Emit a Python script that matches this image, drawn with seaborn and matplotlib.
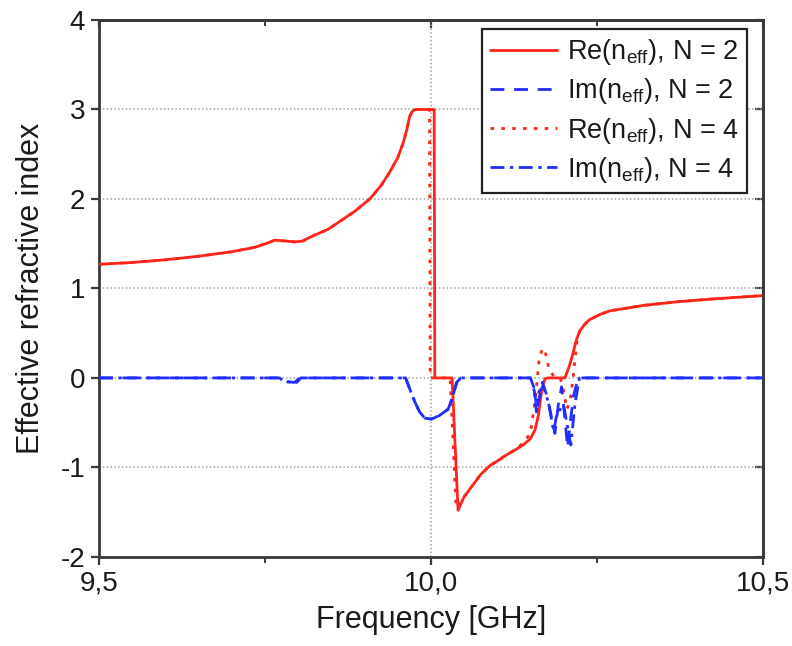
import numpy as np
import pandas as pd
import matplotlib
matplotlib.use("Agg")
import matplotlib.pyplot as plt
import seaborn as sns
from matplotlib.ticker import FixedLocator, FuncFormatter, NullFormatter

# Real part, N = 2 (solid)
freq_re2 = [9.500, 9.550, 9.600, 9.650, 9.700, 9.735, 9.755, 9.765, 9.780, 9.795,
            9.807, 9.820, 9.845, 9.863, 9.885, 9.908, 9.925, 9.938, 9.950, 9.958,
            9.964, 9.968, 9.972, 9.976, 9.990, 10.005, 10.006, 10.032, 10.041, 10.050,
            10.063, 10.075, 10.089, 10.100, 10.114, 10.128, 10.139, 10.150, 10.157, 10.162,
            10.165, 10.168, 10.172, 10.176, 10.202, 10.209, 10.214, 10.219, 10.224, 10.232,
            10.239, 10.255, 10.270, 10.295, 10.320, 10.370, 10.420, 10.460, 10.500]
re_n2 = [1.27, 1.29, 1.32, 1.36, 1.41, 1.46, 1.51, 1.54, 1.53, 1.52,
         1.53, 1.58, 1.66, 1.75, 1.86, 2.00, 2.15, 2.30, 2.46, 2.62,
         2.78, 2.92, 2.98, 3.00, 3.00, 3.00, 0.00, 0.00, -1.48, -1.33,
         -1.20, -1.08, -0.98, -0.93, -0.86, -0.80, -0.75, -0.68, -0.58, -0.42,
         -0.25, -0.10, -0.01, 0.00, 0.00, 0.14, 0.27, 0.42, 0.52, 0.60,
         0.65, 0.71, 0.75, 0.78, 0.81, 0.85, 0.88, 0.90, 0.92]

# Real part, N = 4 (dotted)
freq_re4 = [9.500, 9.550, 9.600, 9.650, 9.700, 9.735, 9.755, 9.765, 9.780, 9.795,
            9.807, 9.820, 9.845, 9.863, 9.885, 9.908, 9.925, 9.938, 9.950, 9.958,
            9.964, 9.968, 9.972, 9.976, 9.990, 9.998, 9.999, 10.029, 10.038, 10.050,
            10.063, 10.075, 10.089, 10.100, 10.114, 10.128, 10.140, 10.150, 10.158, 10.163,
            10.168, 10.172, 10.178, 10.185, 10.195, 10.200, 10.205, 10.210, 10.215, 10.220,
            10.224, 10.232, 10.239, 10.255, 10.270, 10.295, 10.320, 10.370, 10.420, 10.460,
            10.500]
re_n4 = [1.27, 1.29, 1.32, 1.36, 1.41, 1.46, 1.51, 1.54, 1.53, 1.52,
         1.53, 1.58, 1.66, 1.75, 1.86, 2.00, 2.15, 2.30, 2.46, 2.62,
         2.78, 2.92, 2.98, 3.00, 3.00, 3.00, 0.00, 0.00, -1.45, -1.33,
         -1.20, -1.08, -0.98, -0.93, -0.86, -0.80, -0.72, -0.62, -0.20, 0.20,
         0.33, 0.30, 0.10, 0.02, 0.00, -0.15, -0.35, -0.25, 0.05, 0.40,
         0.52, 0.60, 0.65, 0.71, 0.75, 0.78, 0.81, 0.85, 0.88, 0.90,
         0.92]

# Imaginary part, N = 2 (dashed)
freq_im2 = [9.500, 9.770, 9.776, 9.795, 9.802, 9.962, 9.968, 9.976, 9.983, 9.991,
            10.001, 10.013, 10.026, 10.032, 10.039, 10.045, 10.150, 10.156, 10.160, 10.164,
            10.168, 10.175, 10.182, 10.187, 10.192, 10.197, 10.202, 10.206, 10.210, 10.215,
            10.222, 10.500]
im_n2 = [0.00, 0.00, -0.04, -0.05, 0.00, 0.00, -0.12, -0.27, -0.38, -0.45,
         -0.46, -0.42, -0.35, -0.23, -0.05, 0.00, 0.00, -0.15, -0.35, -0.20,
         -0.05, -0.20, -0.45, -0.62, -0.30, -0.10, -0.45, -0.78, -0.50, -0.20,
         0.00, 0.00]

# Imaginary part, N = 4 (dash-dot)
freq_im4 = [9.500, 9.772, 9.778, 9.798, 9.804, 9.962, 9.968, 9.976, 9.983, 9.991,
            10.001, 10.013, 10.026, 10.032, 10.039, 10.045, 10.150, 10.155, 10.159, 10.163,
            10.170, 10.178, 10.185, 10.190, 10.200, 10.206, 10.211, 10.217, 10.224, 10.500]
im_n4 = [0.00, 0.00, -0.04, -0.05, 0.00, 0.00, -0.12, -0.27, -0.38, -0.45,
         -0.46, -0.42, -0.35, -0.23, -0.05, 0.00, 0.00, -0.10, -0.38, -0.15,
         -0.10, -0.30, -0.60, -0.40, -0.30, -0.55, -0.75, -0.30, 0.00, 0.00]

labels = [r"Re(n$_{eff}$), N = 2", r"Im(n$_{eff}$), N = 2",
          r"Re(n$_{eff}$), N = 4", r"Im(n$_{eff}$), N = 4"]

x_ticks = [9.5, 10.0, 10.5]
x_minor = [9.75, 10.25]
y_ticks = [-2, -1, 0, 1, 2, 3, 4]

sns.set_style("white")
plt.rcParams["font.family"] = ["Liberation Sans", "DejaVu Sans"]
plt.rcParams["mathtext.default"] = "regular"

RED = "#ff2419"
BLUE = "#1f2dff"
FRAME = "#3a3a3a"

fig = plt.figure(figsize=(7.92, 6.46), dpi=100)
ax = fig.add_axes([0.125, 0.138, 0.838, 0.831])

# grid first so the curves sit on top
ax.set_axisbelow(True)
ax.grid(True, which="major", linestyle=(0, (1, 1.5)), color="#a0a0a0", linewidth=1.1)

series = [
    (freq_re2, re_n2, labels[0], RED, "-", 2),
    (freq_im2, im_n2, labels[1], BLUE, (0, (5, 3.5)), 4),
    (freq_re4, re_n4, labels[2], RED, (0, (1.3, 2.6)), 3),
    (freq_im4, im_n4, labels[3], BLUE, (0, (5, 2, 1.2, 2)), 5),
]
for fx, fy, lab, col, ls, z in series:
    df = pd.DataFrame({"f": fx, "n": fy})
    sns.lineplot(data=df, x="f", y="n", estimator=None, sort=False, ax=ax,
                 color=col, linewidth=2.0, linestyle=ls, label=lab, zorder=z)

ax.set_xlim(9.5, 10.5)
ax.set_ylim(-2, 4)
ax.xaxis.set_major_locator(FixedLocator(x_ticks))
ax.xaxis.set_minor_locator(FixedLocator(x_minor))
ax.yaxis.set_major_locator(FixedLocator(y_ticks))
ax.xaxis.set_major_formatter(FuncFormatter(lambda v, p: f"{v:.1f}".replace(".", ",")))
ax.yaxis.set_major_formatter(FuncFormatter(lambda v, p: f"{int(round(v))}"))

ax.tick_params(axis="both", which="major", direction="out", length=6, width=1.6,
               color=FRAME, labelsize=20, labelcolor="#1a1a1a", pad=4)
ax.tick_params(axis="x", which="minor", direction="out", length=4, width=1.4, color=FRAME)
ax.tick_params(axis="both", which="both", top=False, right=False, bottom=True, left=True)

# mirrored inward ticks on the top and right edges
top = ax.secondary_xaxis("top")
top.xaxis.set_major_locator(FixedLocator(x_ticks))
top.xaxis.set_minor_locator(FixedLocator(x_minor))
top.xaxis.set_major_formatter(NullFormatter())
top.tick_params(which="major", direction="in", length=6, width=1.6, color=FRAME)
top.tick_params(which="minor", direction="in", length=4, width=1.4, color=FRAME)
right = ax.secondary_yaxis("right")
right.yaxis.set_major_locator(FixedLocator(y_ticks))
right.yaxis.set_major_formatter(NullFormatter())
right.tick_params(which="major", direction="in", length=6, width=1.6, color=FRAME)
for sec in (top, right):
    for s in sec.spines.values():
        s.set_color(FRAME)
        s.set_linewidth(2.0)

for side in ["left", "bottom", "right", "top"]:
    ax.spines[side].set_visible(True)
    ax.spines[side].set_color(FRAME)
    ax.spines[side].set_linewidth(2.0)

ax.set_xlabel("Frequency [GHz]", fontsize=22, color="#1a1a1a", labelpad=6)
ax.set_ylabel("Effective refractive index", fontsize=22, color="#1a1a1a", labelpad=10)

leg = ax.legend(loc="upper right", bbox_to_anchor=(0.976, 0.983), borderaxespad=0,
                fontsize=19.5, frameon=True, fancybox=False, edgecolor="#222222",
                framealpha=1, handlelength=2.5, handletextpad=0.35, labelspacing=0.34,
                borderpad=0.3)
leg.get_frame().set_linewidth(1.6)
leg.set_zorder(10)
for t in leg.get_texts():
    t.set_color("#1a1a1a")

fig.savefig("out.png", dpi=100)
